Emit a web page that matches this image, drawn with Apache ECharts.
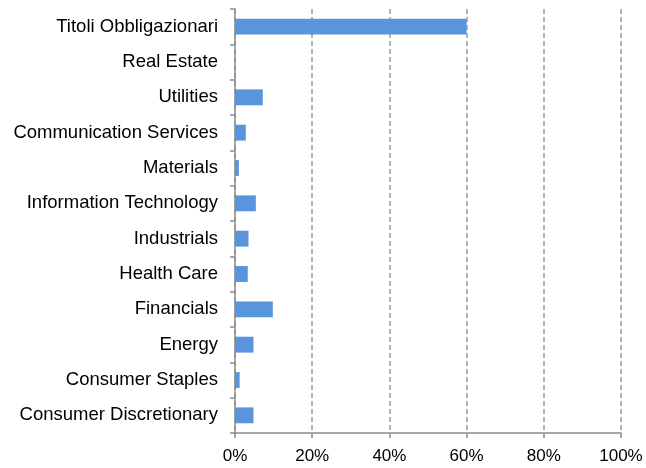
<!DOCTYPE html>
<html>
<head>
<meta charset="utf-8">
<script src="https://cdn.jsdelivr.net/npm/echarts@6/dist/echarts.min.js"></script>
<style>
html, body { margin: 0; padding: 0; background: #fff; }
#chart { width: 646px; height: 468px; }
</style>
</head>
<body>
<div id="chart"></div>
<script>
var categories = ['Consumer Discretionary', 'Consumer Staples', 'Energy', 'Financials', 'Health Care',
	'Industrials', 'Information Technology', 'Materials', 'Communication Services', 'Utilities',
	'Real Estate', 'Titoli Obbligazionari'];
var values = [4.8, 1.2, 4.8, 9.8, 3.3, 3.5, 5.4, 1.0, 2.8, 7.2, 0, 60];
var xTicks = [0, 20, 40, 60, 80, 100];

var myChart = echarts.init(document.getElementById('chart'));
myChart.setOption({
	animation: false,
	grid: { left: 235, right: 25, top: 9, bottom: 35, containLabel: false },
	xAxis: {
		type: 'value',
		min: xTicks[0],
		max: xTicks[xTicks.length - 1],
		interval: 20,
		axisLine: { show: true, lineStyle: { color: '#8c8c8c', width: 1.5 } },
		axisTick: { show: true, length: 5, lineStyle: { color: '#8c8c8c', width: 1.5 } },
		axisLabel: {
			formatter: '{value}%',
			color: '#000',
			fontFamily: 'Liberation Sans',
			fontSize: 17,
			margin: 15
		},
		splitLine: { show: true, lineStyle: { color: '#999', type: [5, 3], width: 1.5 } }
	},
	yAxis: {
		type: 'category',
		data: categories,
		axisLine: { show: true, lineStyle: { color: '#8c8c8c', width: 1.5 } },
		axisTick: { show: true, length: 5, lineStyle: { color: '#8c8c8c', width: 1.5 } },
		axisLabel: {
			color: '#000',
			fontFamily: 'Liberation Sans',
			fontSize: 18.5,
			margin: 17
		}
	},
	series: [{
		type: 'bar',
		data: values,
		barCategoryGap: '55%',
		itemStyle: { color: '#5895dc' }
	}]
});
</script>
</body>
</html>
